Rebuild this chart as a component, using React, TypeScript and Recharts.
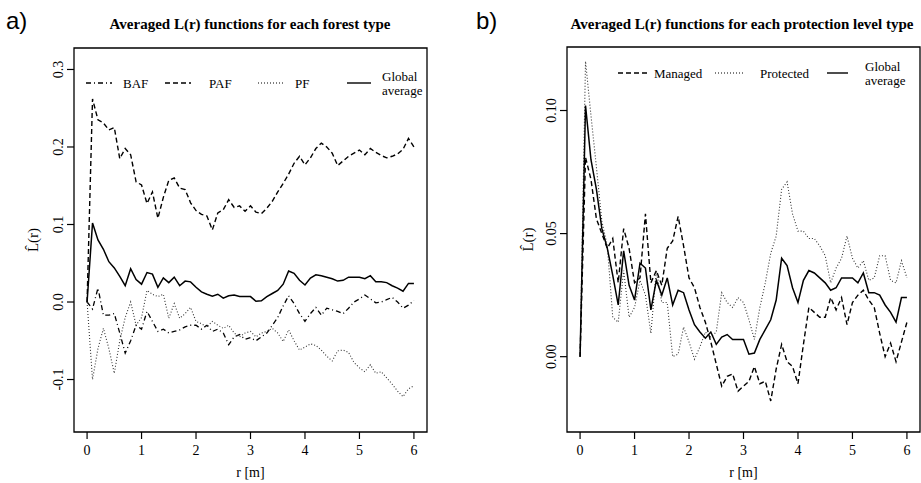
import { LineChart, Line, XAxis, YAxis, ReferenceArea, Legend, Label } from "recharts"

const FONT = '"Liberation Serif", "DejaVu Serif", serif'

// r values (m), one point every 0.1 m
const R_VALUES = [
    0, 0.1, 0.2, 0.3, 0.4, 0.5, 0.6, 0.7, 0.8, 0.9, 1.0, 1.1, 1.2, 1.3, 1.4, 1.5, 1.6, 1.7, 1.8, 1.9,
    2.0, 2.1, 2.2, 2.3, 2.4, 2.5, 2.6, 2.7, 2.8, 2.9, 3.0, 3.1, 3.2, 3.3, 3.4, 3.5, 3.6, 3.7, 3.8, 3.9,
    4.0, 4.1, 4.2, 4.3, 4.4, 4.5, 4.6, 4.7, 4.8, 4.9, 5.0, 5.1, 5.2, 5.3, 5.4, 5.5, 5.6, 5.7, 5.8, 5.9, 6.0,
]

// panel a) forest types
const BAF = [
    0, -0.009, 0.018, -0.017, -0.017, -0.015, -0.04, -0.066, -0.05, -0.03, -0.035,
    -0.012, -0.025, -0.038, -0.035, -0.04, -0.038, -0.036, -0.032, -0.03, -0.03,
    -0.035, -0.03, -0.038, -0.035, -0.04, -0.055, -0.045, -0.042, -0.048, -0.046,
    -0.05, -0.045, -0.04, -0.03, -0.02, -0.005, 0.008, -0.002, -0.015, -0.025,
    -0.015, -0.007, -0.017, -0.008, -0.01, -0.012, -0.015, -0.008, 0.0, 0.004,
    0.009, 0.004, -0.001, 0.0, 0.003, 0.006, 0.0, -0.008, -0.004, 0.002,
]
const PAF = [
    0, 0.262, 0.235, 0.231, 0.222, 0.225, 0.185, 0.198, 0.19, 0.155, 0.151,
    0.127, 0.142, 0.108, 0.135, 0.157, 0.16, 0.147, 0.145, 0.128, 0.118,
    0.113, 0.111, 0.093, 0.115, 0.119, 0.132, 0.122, 0.124, 0.117, 0.124,
    0.116, 0.114, 0.121, 0.13, 0.142, 0.153, 0.165, 0.179, 0.188, 0.177,
    0.186, 0.198, 0.205, 0.2, 0.192, 0.176, 0.182, 0.188, 0.192, 0.196,
    0.19, 0.198, 0.193, 0.189, 0.186, 0.188, 0.191, 0.197, 0.211, 0.2,
]
const PF = [
    0, -0.1, -0.06, -0.034, -0.06, -0.092, -0.05, -0.02, 0.0, -0.03, -0.02,
    0.015, 0.01, 0.007, 0.01, -0.021, -0.002, -0.021, -0.015, -0.007, -0.025,
    -0.028, -0.032, -0.025, -0.03, -0.034, -0.03, -0.04, -0.045, -0.04, -0.038,
    -0.045, -0.04, -0.038, -0.034, -0.04, -0.051, -0.036, -0.05, -0.062, -0.058,
    -0.054, -0.056, -0.062, -0.07, -0.076, -0.063, -0.062, -0.065, -0.078, -0.085,
    -0.09, -0.081, -0.092, -0.09, -0.098, -0.106, -0.115, -0.122, -0.112, -0.108,
]
// same global average in both panels
const GLOBAL = [
    0, 0.102, 0.08, 0.068, 0.052, 0.044, 0.033, 0.021, 0.043, 0.029, 0.023,
    0.038, 0.036, 0.019, 0.031, 0.025, 0.032, 0.021, 0.027, 0.026, 0.019,
    0.013, 0.01, 0.0075, 0.01, 0.005, 0.008, 0.009, 0.007, 0.007, 0.007,
    0.001, 0.0015, 0.007, 0.011, 0.015, 0.023, 0.04, 0.037, 0.028, 0.022,
    0.031, 0.035, 0.034, 0.032, 0.03, 0.027, 0.028, 0.032, 0.032, 0.032,
    0.03, 0.034, 0.026, 0.026, 0.025, 0.021, 0.018, 0.014, 0.024, 0.024,
]

// panel b) protection levels
const MANAGED = [
    0, 0.081, 0.072, 0.056, 0.05, 0.044, 0.048, 0.03, 0.052, 0.044, 0.03,
    0.032, 0.058, 0.03, 0.035, 0.029, 0.044, 0.047, 0.057, 0.045, 0.032,
    0.028, 0.02, 0.014, 0.006, -0.003, -0.012, -0.008, -0.007, -0.014, -0.012,
    -0.01, -0.004, -0.011, -0.01, -0.018, -0.005, 0.005, -0.002, -0.004, -0.011,
    0.005, 0.02, 0.018, 0.016, 0.016, 0.024, 0.019, 0.024, 0.013, 0.022,
    0.025, 0.027, 0.023, 0.02, 0.0095, 0.0, 0.0055, -0.002, 0.006, 0.014,
]
const PROTECTED = [
    0, 0.12, 0.098, 0.077, 0.055, 0.045, 0.016, 0.014, 0.035, 0.016, 0.02,
    0.031, 0.025, 0.0095, 0.035, 0.022, 0.022, 0.0, 0.001, 0.012, 0.006,
    -0.001, 0.004, 0.01, 0.008, 0.01, 0.026, 0.022, 0.02, 0.024, 0.022,
    0.015, 0.007, 0.02, 0.03, 0.042, 0.049, 0.068, 0.071, 0.058, 0.051,
    0.051, 0.048, 0.048, 0.045, 0.041, 0.03, 0.036, 0.04, 0.049, 0.04,
    0.036, 0.039, 0.031, 0.032, 0.041, 0.041, 0.031, 0.03, 0.039, 0.032,
]

const X_TICKS = [0, 1, 2, 3, 4, 5, 6]
const Y_TICKS_A = [-0.1, 0, 0.1, 0.2, 0.3]
const Y_TICKS_B = [0, 0.05, 0.1]

const DASH = "5 3"
const DOT = "1 2"
const DASHDOT = "5 3 1 3"

const rowsA = R_VALUES.map((r, i) => ({ r, baf: BAF[i], paf: PAF[i], pf: PF[i], global: GLOBAL[i] }))
const rowsB = R_VALUES.map((r, i) => ({ r, managed: MANAGED[i], protected: PROTECTED[i], global: GLOBAL[i] }))

const RotTick = (props: any) => {
    const { x, y, payload, digits } = props
    return (
        <text x={x} y={y} transform={`rotate(-90 ${x} ${y})`} textAnchor="middle"
            fontSize={14} fontFamily={FONT} fill="#000">
            {Number(payload.value).toFixed(digits)}
        </text>
    )
}

const yLabel = (dx: number) => (props: any) => {
    const vb = props.viewBox
    const x = vb.x + dx
    const y = vb.y + vb.height / 2
    return (
        <text x={x} y={y} transform={`rotate(-90 ${x} ${y})`} textAnchor="middle"
            fontSize={15} fontFamily={FONT} style={{ fill: "#000", stroke: "none" }}>
            {"L\u0302(r)"}
        </text>
    )
}

interface Entry { label: string[]; dash?: string; x1: number; x2: number; tx: number }

const legendSvg = (w: number, h: number, rowY: number, entries: Entry[]) => () => (
    <svg width={w} height={h} style={{ display: "block" }}>
        {entries.map((e, i) => (
            <g key={i}>
                <line x1={e.x1} x2={e.x2} y1={rowY} y2={rowY} stroke="#000"
                    strokeWidth={e.dash === DOT ? 1.1 : 1.4} strokeDasharray={e.dash} />
                {e.label.length === 1 ? (
                    <text x={e.tx} y={rowY} dominantBaseline="central" fontSize={13} fontFamily={FONT}>{e.label[0]}</text>
                ) : (
                    <>
                        <text x={e.tx} y={rowY - 6.5} dominantBaseline="central" fontSize={13} fontFamily={FONT}>{e.label[0]}</text>
                        <text x={e.tx} y={rowY + 7.5} dominantBaseline="central" fontSize={13} fontFamily={FONT}>{e.label[1]}</text>
                    </>
                )}
            </g>
        ))}
    </svg>
)

const LEGEND_A: Entry[] = [
    { label: ["BAF"], dash: DASHDOT, x1: 86, x2: 112, tx: 123 },
    { label: ["PAF"], dash: DASH, x1: 165, x2: 191, tx: 209 },
    { label: ["PF"], dash: DOT, x1: 258, x2: 285, tx: 295 },
    { label: ["Global", "average"], x1: 347, x2: 371, tx: 382 },
]
const LEGEND_B: Entry[] = [
    { label: ["Managed"], dash: DASH, x1: 158, x2: 188, tx: 194 },
    { label: ["Protected"], dash: DOT, x1: 255, x2: 285, tx: 300 },
    { label: ["Global", "average"], x1: 367, x2: 388, tx: 405 },
]

const titleStyle = (cx: number): React.CSSProperties => ({
    position: "absolute", left: cx - 250, width: 500, top: 17, textAlign: "center",
    fontFamily: FONT, fontWeight: "bold", fontSize: 15, lineHeight: "15px", color: "#000",
})
const tagStyle = (x: number): React.CSSProperties => ({
    position: "absolute", left: x, top: 9, fontFamily: '"Liberation Sans", Arial, sans-serif',
    fontSize: 24, lineHeight: "24px", color: "#000",
})

const axisTick = { fontSize: 14, fontFamily: FONT, fill: "#000" }

export default function App() {
    const yA: [number, number] = [-0.1677, 0.3277]
    const yB: [number, number] = [-0.0306, 0.1258]
    const xDom: [number, number] = [-0.24, 6.24]
    return (
        <div style={{ position: "absolute", left: 0, top: 0, width: 921, height: 483, background: "#fff" }}>
            <div style={tagStyle(6)}>a)</div>
            <div style={tagStyle(476)}>b)</div>
            <div style={titleStyle(250)}>Averaged L(r) functions for each forest type</div>
            <div style={titleStyle(742)}>Averaged L(r) functions for each protection level type</div>

            <div style={{ position: "absolute", left: 0, top: 0 }}>
                <LineChart width={460} height={483} data={rowsA} margin={{ top: 48, right: 33, left: 0, bottom: 0 }}>
                    <XAxis dataKey="r" type="number" domain={xDom} ticks={X_TICKS} allowDataOverflow
                        height={51} axisLine={false} tickSize={7} tickMargin={6}
                        tickLine={{ stroke: "#000", strokeWidth: 1.2 }} tick={axisTick}>
                        <Label value="r [m]" position="insideBottom" offset={6} fontSize={14} fontFamily={FONT} fill="#000" />
                    </XAxis>
                    <YAxis type="number" domain={yA} ticks={Y_TICKS_A} allowDataOverflow width={74}
                        axisLine={false} tickSize={7} tickMargin={4}
                        tickLine={{ stroke: "#000", strokeWidth: 1.2 }} tick={<RotTick digits={1} />}>
                        <Label content={yLabel(38)} />
                    </YAxis>
                    <ReferenceArea x1={xDom[0]} x2={xDom[1]} y1={yA[0]} y2={yA[1]} fill="none" stroke="#000" strokeWidth={1.3} ifOverflow="visible" />
                    <Line dataKey="baf" type="linear" stroke="#000" strokeWidth={1.3} strokeDasharray={DASHDOT} dot={false} isAnimationActive={false} />
                    <Line dataKey="paf" type="linear" stroke="#000" strokeWidth={1.4} strokeDasharray={DASH} dot={false} isAnimationActive={false} />
                    <Line dataKey="pf" type="linear" stroke="#333" strokeWidth={1.1} strokeDasharray={DOT} dot={false} isAnimationActive={false} />
                    <Line dataKey="global" type="linear" stroke="#000" strokeWidth={1.5} dot={false} isAnimationActive={false} />
                    <Legend layout="horizontal" verticalAlign="middle" align="center"
                        wrapperStyle={{ left: 0, top: 0, width: 460, height: 483, pointerEvents: "none" }}
                        content={legendSvg(460, 483, 83, LEGEND_A)} />
                </LineChart>
            </div>

            <div style={{ position: "absolute", left: 460, top: 0 }}>
                <LineChart width={461} height={483} data={rowsB} margin={{ top: 47, right: 1, left: 0, bottom: 0 }}>
                    <XAxis dataKey="r" type="number" domain={xDom} ticks={X_TICKS} allowDataOverflow
                        height={51} axisLine={false} tickSize={7} tickMargin={6}
                        tickLine={{ stroke: "#000", strokeWidth: 1.2 }} tick={axisTick}>
                        <Label value="r [m]" position="insideBottom" offset={6} fontSize={14} fontFamily={FONT} fill="#000" />
                    </XAxis>
                    <YAxis type="number" domain={yB} ticks={Y_TICKS_B} allowDataOverflow width={107}
                        axisLine={false} tickSize={7} tickMargin={4}
                        tickLine={{ stroke: "#000", strokeWidth: 1.2 }} tick={<RotTick digits={2} />}>
                        <Label content={yLabel(73)} />
                    </YAxis>
                    <ReferenceArea x1={xDom[0]} x2={xDom[1]} y1={yB[0]} y2={yB[1]} fill="none" stroke="#000" strokeWidth={1.3} ifOverflow="visible" />
                    <Line dataKey="managed" type="linear" stroke="#000" strokeWidth={1.4} strokeDasharray={DASH} dot={false} isAnimationActive={false} />
                    <Line dataKey="protected" type="linear" stroke="#333" strokeWidth={1.1} strokeDasharray={DOT} dot={false} isAnimationActive={false} />
                    <Line dataKey="global" type="linear" stroke="#000" strokeWidth={1.5} dot={false} isAnimationActive={false} />
                    <Legend layout="horizontal" verticalAlign="middle" align="center"
                        wrapperStyle={{ left: 0, top: 0, width: 461, height: 483, pointerEvents: "none" }}
                        content={legendSvg(461, 483, 73, LEGEND_B)} />
                </LineChart>
            </div>
        </div>
    )
}
